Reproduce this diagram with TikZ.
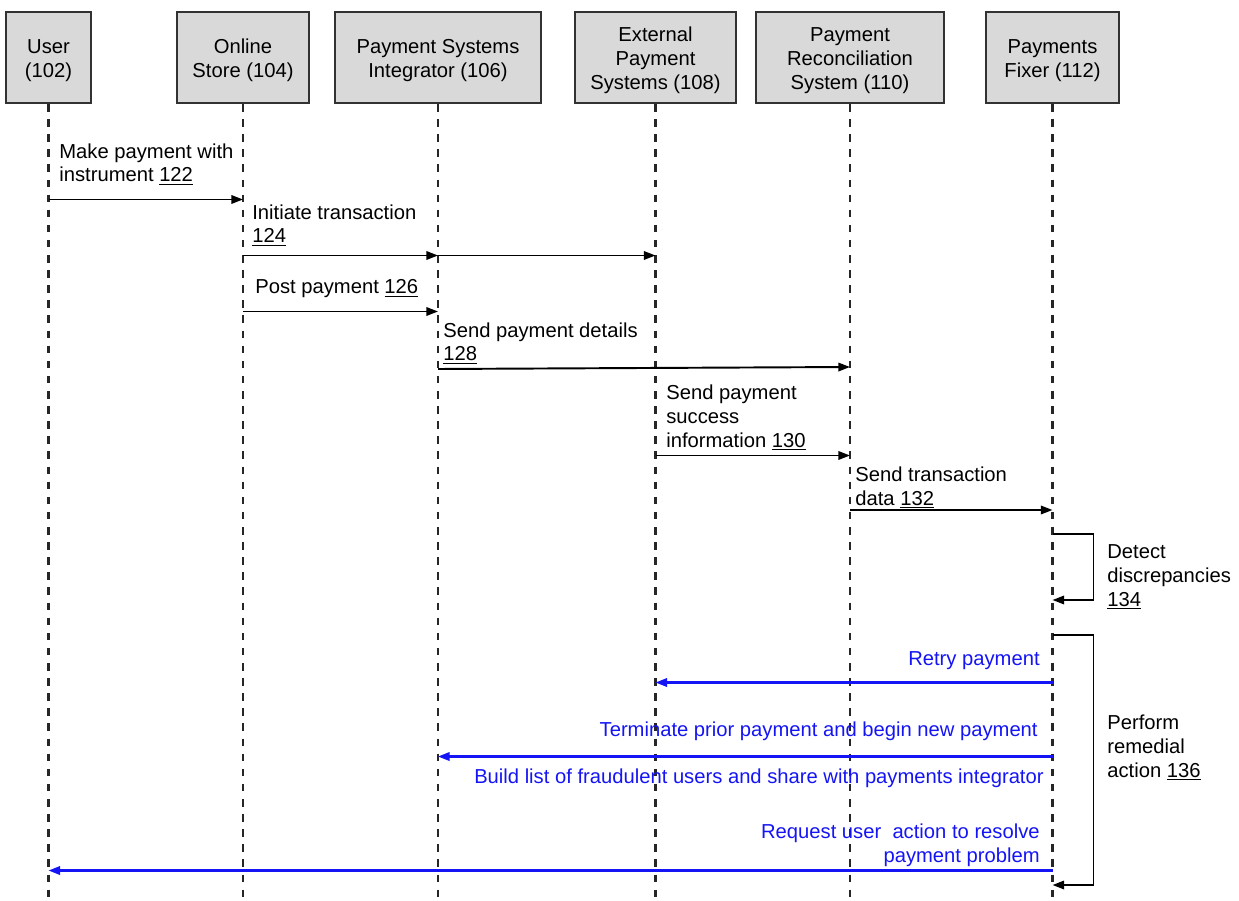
\documentclass[tikz,border=0pt]{standalone}
\usepackage{fontspec}
\setmainfont{Liberation Sans}
\usetikzlibrary{arrows.meta}

\newcommand{\headstrut}{\rule{0pt}{11.6pt}}

\begin{document}
\begin{tikzpicture}[x=0.02cm, y=-0.02cm,
  every node/.style={font=\fontsize{11.5pt}{13.6pt}\selectfont},
  head/.style={draw=headline, fill=headfill, line width=1.1pt, minimum height=1.82cm, align=center},
  lifeline/.style={draw=black!85, line width=1.25pt, dash pattern=on 4.3pt off 4.3pt},
  msg/.style={line width=1.1pt, -{Triangle[length=6.6pt, width=4.8pt]}},
  remedy/.style={msg, draw=myblue, line width=1.2pt},
  note/.style={inner sep=0pt, anchor=base west, align=left},
  bluenote/.style={inner sep=0pt, anchor=base east, align=right, text=myblue}]

% Define colors
\definecolor{headfill}{RGB}{217, 217, 217}
\definecolor{headline}{RGB}{50, 50, 50}
\definecolor{myblue}{RGB}{20, 20, 245}

\useasboundingbox (0,0) rectangle (1239,901);

% Draw the participants
\node[head, minimum width=1.7cm] (user) at (48.5,57.5) {\headstrut User\\(102)};
\node[head, minimum width=2.64cm] (store) at (243,57.5) {\headstrut Online\\Store (104)};
\node[head, minimum width=4.12cm] (psi) at (438,57.5) {\headstrut Payment Systems\\Integrator (106)};
\node[head, minimum width=3.22cm] (eps) at (655.5,57.5) {\headstrut External\\Payment\\Systems (108)};
\node[head, minimum width=3.76cm] (prs) at (850,57.5) {\headstrut Payment\\Reconciliation\\System (110)};
\node[head, minimum width=2.66cm] (fixer) at (1052.5,57.5) {\headstrut Payments\\Fixer (112)};

% Lifelines
\foreach \p in {user, store, psi, eps, prs, fixer}
  \draw[lifeline] (\p.south) -- (\p |- 0,901);

% Messages
\draw[msg] (user |- 0,199.5) -- (store |- 0,199.5);
\node[note] (l122) at (59,182) {Make payment with\\instrument \underline{122}};

\draw[msg] (store |- 0,255.5) -- (psi |- 0,255.5);
\draw[msg] (psi |- 0,255.5) -- (eps |- 0,255.5);
\node[note] (l124) at (252,243) {Initiate transaction\\\underline{124}};

\draw[msg] (store |- 0,311.5) -- (psi |- 0,311.5);
\node[note] (l126) at (255,293.5) {Post payment \underline{126}};

\draw[msg] (psi |- 0,369) -- (prs |- 0,367);
\node[note] (l128) at (443,361) {Send payment details\\\underline{128}};

\draw[msg] (eps |- 0,455.5) -- (prs |- 0,455.5);
\node[note] (l130) at (666,447) {Send payment\\success\\information \underline{130}};

\draw[msg] (prs |- 0,510) -- (fixer |- 0,510);
\node[note] (l132) at (855,505) {Send transaction\\data \underline{132}};

% Detect discrepancies
\draw[msg] (fixer |- 0,534) -- ++(41,0) |- (fixer |- 0,600);
\node[note] (l134) at (1107,606) {Detect\\discrepancies\\\underline{134}};

% Remedial actions
\draw[msg] (fixer |- 0,635) -- ++(41,0) |- (fixer |- 0,885);
\node[note] (l136) at (1107,777) {Perform\\remedial\\action \underline{136}};

\draw[remedy] (fixer |- 0,682.5) -- (eps |- 0,682.5);
\node[bluenote] (retry) at (1040,665.5) {Retry payment};

\draw[remedy] (fixer |- 0,756.5) -- (psi |- 0,756.5);
\node[bluenote] (terminate) at (1038,736.5) {Terminate prior payment and begin new payment};
\node[bluenote] (fraud) at (1044,783.5) {Build list of fraudulent users and share with payments integrator};

\draw[remedy] (fixer |- 0,870.5) -- (user |- 0,870.5);
\node[bluenote] (request) at (1040,862.5) {Request user\ \ action to resolve\\payment problem};

\end{tikzpicture}
\end{document}
